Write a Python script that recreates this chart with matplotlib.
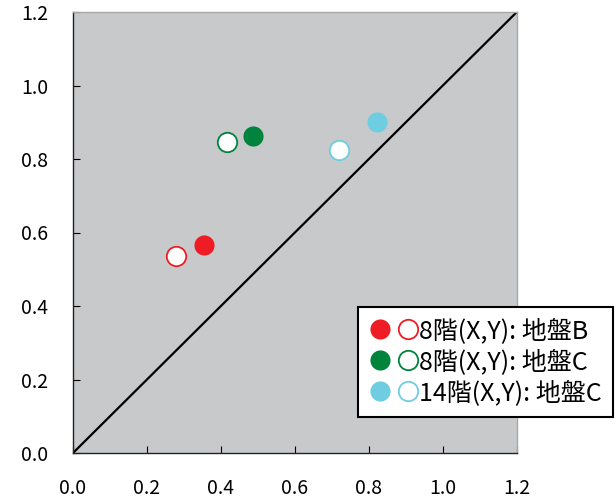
import matplotlib
matplotlib.use("Agg")
import matplotlib.pyplot as plt
from matplotlib.legend_handler import HandlerTuple
from matplotlib.lines import Line2D

plt.rcParams['font.family'] = ['Noto Sans CJK JP', 'DejaVu Sans']

labels = ['8階(X,Y): 地盤B', '8階(X,Y): 地盤C', '14階(X,Y): 地盤C']
colors = ['#ee1c25', '#00843d', '#6ecde0']
# filled = X direction, open = Y direction
x_filled = [0.355, 0.488, 0.823]
y_filled = [0.566, 0.863, 0.901]
x_open = [0.279, 0.417, 0.718]
y_open = [0.536, 0.846, 0.824]

ticks = [0.0, 0.2, 0.4, 0.6, 0.8, 1.0, 1.2]

fig = plt.figure(figsize=(6.16, 5.0), dpi=100)
ax = fig.add_axes([0.1185, 0.094, 0.7205, 0.882])
ax.set_facecolor('#c8c9cb')

ax.plot([0, 1.2], [0, 1.2], color='black', lw=1.6, zorder=2)

handles = []
for i in range(len(labels)):
    ax.plot(x_filled[i], y_filled[i], 'o', ms=14.5, mfc=colors[i], mec='none', zorder=3)
    ax.plot(x_open[i], y_open[i], 'o', ms=14, mfc='white', mec=colors[i], mew=1.3, zorder=3)
    h1 = Line2D([], [], ls='none', marker='o', ms=14.5, mfc=colors[i], mec='none')
    h2 = Line2D([], [], ls='none', marker='o', ms=14, mfc='white', mec=colors[i], mew=1.3)
    handles.append((h1, h2))

ax.set_xlim(0, 1.2)
ax.set_ylim(0, 1.2)
ax.set_xticks(ticks)
ax.set_yticks(ticks)
ax.set_xticklabels([f'{t:.1f}' for t in ticks])
ax.set_yticklabels([f'{t:.1f}' for t in ticks])
ax.tick_params(axis='x', direction='in', length=5, width=0.8, pad=18, labelsize=14)
ax.tick_params(axis='y', direction='in', length=5, width=0.8, pad=18, labelsize=14)

for s in ['left', 'bottom']:
    ax.spines[s].set_color('#222222')
    ax.spines[s].set_linewidth(1.0)
for s in ['top', 'right']:
    ax.spines[s].set_color('#a8a8a8')
    ax.spines[s].set_linewidth(1.0)

leg = ax.legend(handles, labels, handler_map={tuple: HandlerTuple(ndivide=None, pad=0.25)},
                loc='lower right', bbox_to_anchor=(1.2167, 0.0816), fontsize=18,
                frameon=True, fancybox=False, handlelength=2.0, handletextpad=0.0,
                labelspacing=0.2, borderpad=0.45, borderaxespad=0.0)
leg.get_frame().set_edgecolor('black')
leg.get_frame().set_linewidth(1.5)
leg.get_frame().set_alpha(1.0)

fig.savefig('out.png', dpi=100)
